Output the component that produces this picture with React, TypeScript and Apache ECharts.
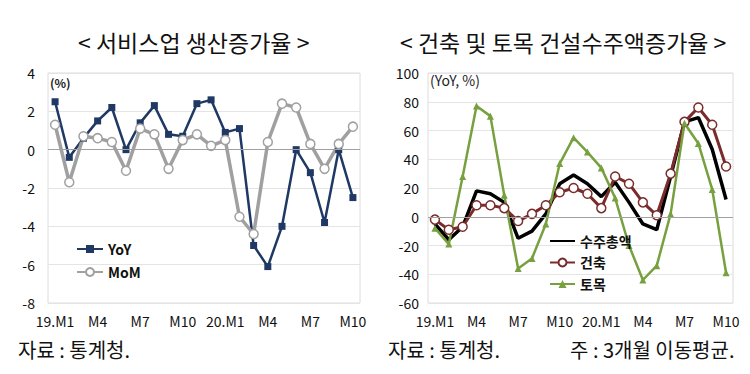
import React, { useEffect, useRef } from "react";
import * as echarts from "echarts";

const categories = [
  "19.M1", "M2", "M3", "M4", "M5", "M6", "M7", "M8", "M9", "M10", "M11", "M12",
  "20.M1", "M2", "M3", "M4", "M5", "M6", "M7", "M8", "M9", "M10",
];

const serviceYoY = [2.5, -0.4, 0.6, 1.5, 2.2, 0.0, 1.4, 2.3, 0.8, 0.7, 2.4, 2.6, 0.9, 1.1, -5.0, -6.1, -4.0, 0.0, -1.2, -3.8, 0.0, -2.5];
const serviceMoM = [1.3, -1.7, 0.7, 0.6, 0.4, -1.1, 1.1, 0.8, -1.0, 0.5, 0.8, 0.2, 0.5, -3.5, -4.4, 0.4, 2.4, 2.2, 0.3, -1.0, 0.3, 1.2];

const orderTotal = [-5, -16, -7, 18, 16, 10, -15, -10, 2, 23, 29, 23, 14, 24, 10, -5, -9, 28, 66, 69, 47, 12];
const orderBuilding = [-2, -9, -7, 8, 8, 6, -3, 2, 8, 17, 20, 16, 6, 28, 23, 10, 1, 30, 66, 76, 64, 35];
const orderCivil = [-8, -19, 28, 77, 70, 15, -36, -29, -5, 37, 55, 45, 34, 13, -20, -44, -34, 2, 65, 51, 19, -39];

const leftYTicks = { min: -8, max: 4, interval: 2 };
const rightYTicks = { min: -60, max: 100, interval: 20 };

const FONT = "'Noto Sans CJK KR', 'Noto Sans', sans-serif";

export default function App() {
  const ref = useRef<HTMLDivElement>(null);

  useEffect(() => {
    if (!ref.current) return;
    const chart = echarts.init(ref.current, null, { renderer: "svg" });

    const xAxisCommon = {
      type: "category" as const,
      data: categories,
      boundaryGap: true,
      axisLine: { show: false },
      axisTick: { show: false },
      axisLabel: {
        interval: 2,
        color: "#111",
        fontSize: 14,
        fontFamily: FONT,
        margin: 11,
      },
    };
    const yAxisCommon = {
      type: "value" as const,
      axisLine: { show: false },
      axisTick: { show: false },
      splitLine: { lineStyle: { color: "#e4e4e4", width: 1 } },
    };
    const zeroLine = {
      silent: true,
      symbol: ["none", "none"],
      label: { show: false },
      lineStyle: { color: "#a0a0a0", width: 1, type: "solid" },
      data: [{ yAxis: 0 }],
    };
    const legendText = { color: "#111", fontSize: 14, fontWeight: "bold", fontFamily: FONT };

    chart.setOption({
      animation: false,
      backgroundColor: "#ffffff",
      grid: [
        { left: 48, right: 390, top: 73, bottom: 71, show: true, borderColor: "#dcdcdc", borderWidth: 1 },
        { left: 428, right: 17, top: 73, bottom: 71, show: true, borderColor: "#dcdcdc", borderWidth: 1 },
      ],
      xAxis: [
        { ...xAxisCommon, gridIndex: 0 },
        { ...xAxisCommon, gridIndex: 1 },
      ],
      yAxis: [
        {
          ...yAxisCommon,
          gridIndex: 0,
          ...leftYTicks,
          axisLabel: { color: "#111", fontSize: 14, fontFamily: FONT, margin: 13 },
        },
        {
          ...yAxisCommon,
          gridIndex: 1,
          ...rightYTicks,
          axisLabel: { color: "#111", fontSize: 14, fontFamily: FONT, margin: 9 },
        },
      ],
      legend: [
        {
          orient: "vertical",
          left: 71,
          top: 237,
          itemWidth: 26,
          itemHeight: 10,
          itemGap: 9,
          data: ["YoY", "MoM"],
          textStyle: legendText,
        },
        {
          orient: "vertical",
          left: 544,
          top: 229,
          itemWidth: 25,
          itemHeight: 10,
          itemGap: 7.5,
          data: [
            { name: "수주총액", itemStyle: { opacity: 0 } },
            "건축",
            "토목",
          ],
          textStyle: legendText,
        },
      ],
      series: [
        {
          name: "YoY",
          type: "line",
          xAxisIndex: 0,
          yAxisIndex: 0,
          data: serviceYoY,
          symbol: "rect",
          symbolSize: 7,
          itemStyle: { color: "#1f3864" },
          lineStyle: { color: "#1f3864", width: 2.5 },
          markLine: zeroLine,
        },
        {
          name: "MoM",
          type: "line",
          xAxisIndex: 0,
          yAxisIndex: 0,
          data: serviceMoM,
          symbol: "circle",
          symbolSize: 9,
          itemStyle: { color: "#ffffff", borderColor: "#a0a0a0", borderWidth: 1.5 },
          lineStyle: { color: "#a0a0a0", width: 3.5 },
        },
        {
          name: "수주총액",
          type: "line",
          xAxisIndex: 1,
          yAxisIndex: 1,
          data: orderTotal,
          symbol: "none",
          itemStyle: { color: "#000000" },
          lineStyle: { color: "#000000", width: 3.5 },
          markLine: zeroLine,
        },
        {
          name: "건축",
          type: "line",
          xAxisIndex: 1,
          yAxisIndex: 1,
          data: orderBuilding,
          symbol: "circle",
          symbolSize: 9,
          itemStyle: { color: "#ffffff", borderColor: "#7a2b2b", borderWidth: 1.5 },
          lineStyle: { color: "#7a2b2b", width: 3 },
        },
        {
          name: "토목",
          type: "line",
          xAxisIndex: 1,
          yAxisIndex: 1,
          data: orderCivil,
          symbol: "triangle",
          symbolSize: 7,
          itemStyle: { color: "#77a03f" },
          lineStyle: { color: "#77a03f", width: 2.5 },
        },
      ],
      graphic: [
        {
          type: "text",
          left: 78,
          top: 30,
          style: { text: "< 서비스업 생산증가율 >", fill: "#111", fontSize: 23, fontFamily: FONT },
        },
        {
          type: "text",
          left: 400,
          top: 30,
          style: { text: "< 건축 및 토목 건설수주액증가율 >", fill: "#111", fontSize: 23, fontFamily: FONT },
        },
        {
          type: "text",
          left: 50,
          top: 76,
          style: { text: "(%)", fill: "#222", fontSize: 12, fontWeight: "bold", fontFamily: FONT },
        },
        {
          type: "text",
          left: 430,
          top: 73,
          style: { text: "(YoY, %)", fill: "#222", fontSize: 14, fontFamily: FONT },
        },
        {
          type: "text",
          left: 18,
          top: 339,
          style: { text: "자료 : 통계청.", fill: "#111", fontSize: 20, fontFamily: FONT },
        },
        {
          type: "text",
          left: 388,
          top: 339,
          style: { text: "자료 : 통계청.", fill: "#111", fontSize: 20, fontFamily: FONT },
        },
        {
          type: "text",
          left: 570,
          top: 339,
          style: { text: "주 : 3개월 이동평균.", fill: "#111", fontSize: 20, fontFamily: FONT },
        },
      ],
    });

    return () => chart.dispose();
  }, []);

  return <div ref={ref} style={{ width: 750, height: 374, position: "absolute", left: 0, top: 0 }} />;
}
